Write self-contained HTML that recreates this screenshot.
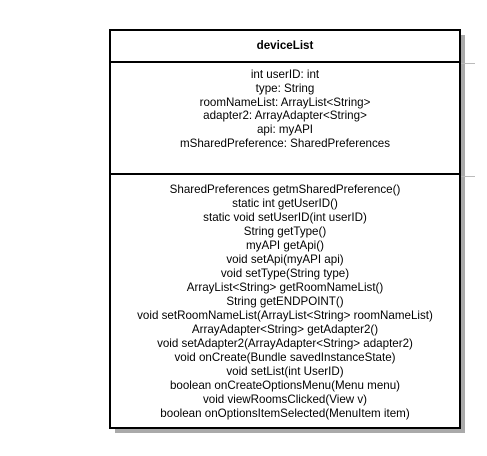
<!DOCTYPE html>
<html><head><style>
body{margin:0;background:#fff;width:487px;height:456px;position:relative;overflow:hidden;font-family:"Liberation Sans",Arial,sans-serif;font-size:11.6px;color:#000}
.shadow{position:absolute;left:115px;top:35px;width:350px;height:398px;background:#aaa}
.box{position:absolute;left:109px;top:29px;width:348px;height:396px;border:2px solid #000;background:#fff}
.hd{position:absolute;left:0;top:0;width:348px;height:30px;border-bottom:2px solid #000;text-align:center;font-weight:bold;line-height:30px}
.sec{position:absolute;left:0;width:348px;text-align:center;line-height:14px;white-space:nowrap}
.tick{position:absolute;left:461px;width:14px;height:1px;background:#bbb}
</style></head><body>
<div class="shadow"></div>
<div class="tick" style="top:63px"></div>
<div class="tick" style="top:176px"></div>
<div class="box">
<div class="hd">deviceList</div>
<div class="sec" style="top:37px;line-height:13.8px">int userID: int<br>type: String<br>roomNameList: ArrayList&lt;String&gt;<br>adapter2: ArrayAdapter&lt;String&gt;<br>api: myAPI<br>mSharedPreference: SharedPreferences</div>
<div style="position:absolute;left:0;top:142px;width:348px;height:2px;background:#000"></div>
<div class="sec" style="top:152px">SharedPreferences getmSharedPreference()<br>static int getUserID()<br>static void setUserID(int userID)<br>String getType()<br>myAPI getApi()<br>void setApi(myAPI api)<br>void setType(String type)<br>ArrayList&lt;String&gt; getRoomNameList()<br>String getENDPOINT()<br>void setRoomNameList(ArrayList&lt;String&gt; roomNameList)<br>ArrayAdapter&lt;String&gt; getAdapter2()<br>void setAdapter2(ArrayAdapter&lt;String&gt; adapter2)<br>void onCreate(Bundle savedInstanceState)<br>void setList(int UserID)<br>boolean onCreateOptionsMenu(Menu menu)<br>void viewRoomsClicked(View v)<br>boolean onOptionsItemSelected(MenuItem item)</div>
</div>
</body></html>
